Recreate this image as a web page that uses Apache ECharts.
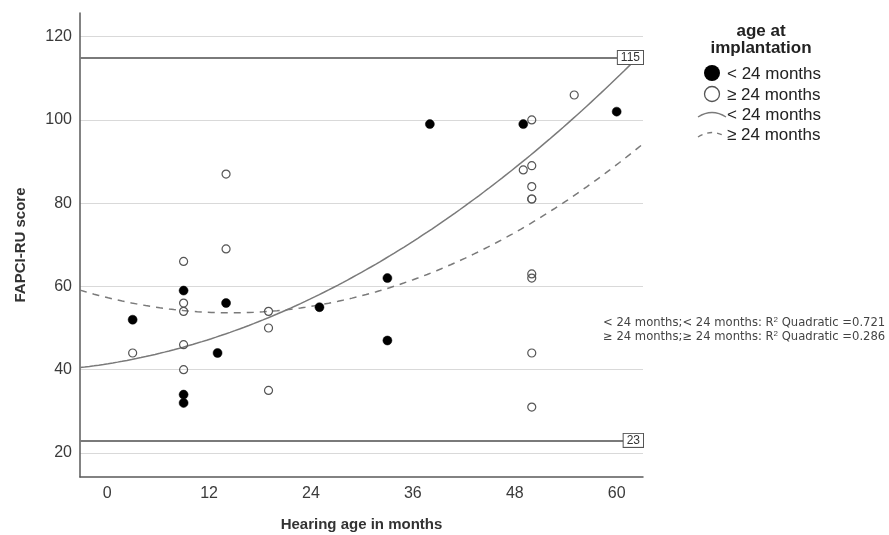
<!DOCTYPE html>
<html><head><meta charset="utf-8">
<script src="https://cdn.jsdelivr.net/npm/echarts@6/dist/echarts.min.js"></script>
<style>html,body{margin:0;padding:0;background:#fff}#c{width:889px;height:535px}</style>
</head><body><div id="c"></div>
<script>
// ---- data ----
const xTicks = [0, 12, 24, 36, 48, 60];
const yTicks = [20, 40, 60, 80, 100, 120];
const xRange = [-3.2, 63.1];
const yRange = [14.2, 125.7];
const refLines = [115, 23];
const groupNames = ['< 24 months', '≥ 24 months'];
// age at implantation < 24 months (filled)
const ltX = [3, 9, 9, 9, 13, 14, 25, 33, 33, 38, 49, 60];
const ltY = [52, 59, 34, 32, 44, 56, 55, 62, 47, 99, 99, 102];
// age at implantation >= 24 months (open)
const geX = [3, 9, 9, 9, 9, 9, 14, 14, 19, 19, 19, 49, 50, 50, 50, 50, 50, 50, 50, 50, 50, 55];
const geY = [44, 66, 56, 54, 46, 40, 87, 69, 54, 50, 35, 88, 100, 89, 84, 81, 81, 63, 62, 44, 31, 106];
const r2Lines = [
  '< 24 months;< 24 months: R{sup|2} Quadratic =0.721',
  '≥ 24 months;≥ 24 months: R{sup|2} Quadratic =0.286'
];
const xTitle = 'Hearing age in months';
const yTitle = 'FAPCI-RU score';
const legendTitle = ['age at', 'implantation'];

// ---- quadratic least squares fit of the data ----
function quadFit(xs, ys) {
  let n = xs.length, s1 = 0, s2 = 0, s3 = 0, s4 = 0, t0 = 0, t1 = 0, t2 = 0;
  for (let i = 0; i < n; i++) {
    const x = xs[i], y = ys[i];
    s1 += x; s2 += x * x; s3 += x * x * x; s4 += x * x * x * x;
    t0 += y; t1 += x * y; t2 += x * x * y;
  }
  const M = [[n, s1, s2], [s1, s2, s3], [s2, s3, s4]], B = [t0, t1, t2];
  const det = m => m[0][0]*(m[1][1]*m[2][2]-m[1][2]*m[2][1]) - m[0][1]*(m[1][0]*m[2][2]-m[1][2]*m[2][0]) + m[0][2]*(m[1][0]*m[2][1]-m[1][1]*m[2][0]);
  const D = det(M);
  const res = [];
  for (let k = 0; k < 3; k++) {
    const Mk = M.map((row, i) => row.map((v, j) => j === k ? B[i] : v));
    res.push(det(Mk) / D);
  }
  return res;
}
function fitCurve(xs, ys) {
  const c = quadFit(xs, ys);
  const pts = [];
  const steps = 120;
  for (let i = 0; i <= steps; i++) {
    const x = xRange[0] + (xRange[1] - xRange[0]) * i / steps;
    pts.push([x, c[0] + c[1] * x + c[2] * x * x]);
  }
  return pts;
}
const zip = (a, b) => a.map((v, i) => [v, b[i]]);

const chart = echarts.init(document.getElementById('c'), null, { renderer: 'canvas' });
const FF = '"Liberation Sans", Arial, Helvetica, sans-serif';
const axisCol = '#5a5a5a';
const supRich = { sup: { fontSize: 8, verticalAlign: 'top', padding: [0, 0, 6, 0], fill: '#444' } };
chart.setOption({
  animation: false,
  backgroundColor: '#fff',
  grid: { left: 80, right: 246, top: 13, bottom: 58, containLabel: false, outerBoundsMode: 'none' },
  xAxis: {
    type: 'value', min: xRange[0], max: xRange[1],
    name: xTitle, nameLocation: 'middle', nameGap: 40,
    nameTextStyle: { fontFamily: FF, fontSize: 15, fontWeight: 'bold', color: '#333' },
    axisLine: { show: true, onZero: false, lineStyle: { color: axisCol, width: 1.5 } },
    axisTick: { show: false, customValues: xTicks },
    axisLabel: { customValues: xTicks, fontFamily: FF, fontSize: 16, color: '#3a3a3a', margin: 9 },
    splitLine: { show: false }
  },
  yAxis: {
    type: 'value', min: yRange[0], max: yRange[1],
    name: yTitle, nameLocation: 'middle', nameGap: 52,
    nameTextStyle: { fontFamily: FF, fontSize: 15, fontWeight: 'bold', color: '#333' },
    axisLine: { show: true, onZero: false, lineStyle: { color: axisCol, width: 1.5 } },
    axisTick: { show: false, customValues: yTicks },
    axisLabel: { customValues: yTicks, fontFamily: FF, fontSize: 16, color: '#3a3a3a', margin: 8 },
    splitLine: { show: true, lineStyle: { color: '#d9d9d9', width: 1.2 } }
  },
  series: [
    {
      name: groupNames[0] + ' fit', type: 'line', data: fitCurve(ltX, ltY),
      showSymbol: false, silent: true, clip: true,
      lineStyle: { color: '#7a7a7a', width: 1.5 }, z: 2,
      markLine: {
        silent: true, symbol: ['none', 'none'],
        lineStyle: { color: '#7a7a7a', width: 1.8, type: 'solid' },
        label: {
          show: true, position: 'insideEnd', distance: 0, formatter: '{c}',
          fontFamily: FF, fontSize: 12, color: '#333',
          backgroundColor: '#fff', borderColor: '#555', borderWidth: 1, padding: [1, 3, 0, 3]
        },
        data: refLines.map(v => ({ yAxis: v }))
      }
    },
    {
      name: groupNames[1] + ' fit', type: 'line', data: fitCurve(geX, geY),
      showSymbol: false, silent: true, clip: true,
      lineStyle: { color: '#7a7a7a', width: 1.5, type: [7, 6] }, z: 2
    },
    {
      name: groupNames[0], type: 'scatter', data: zip(ltX, ltY), symbol: 'circle', symbolSize: 9,
      itemStyle: { color: '#000', borderColor: '#000', borderWidth: 0.5, opacity: 1 }, z: 3
    },
    {
      name: groupNames[1], type: 'scatter', data: zip(geX, geY), symbol: 'circle', symbolSize: 8,
      itemStyle: { color: 'rgba(255,255,255,0)', borderColor: '#555', borderWidth: 1.2, opacity: 1 }, z: 3
    }
  ],
  graphic: [
    { type: 'text', x: 761, y: 31, style: { text: legendTitle[0], font: 'bold 17px ' + FF, fill: '#222', align: 'center', verticalAlign: 'middle' } },
    { type: 'text', x: 761, y: 48, style: { text: legendTitle[1], font: 'bold 17px ' + FF, fill: '#222', align: 'center', verticalAlign: 'middle' } },
    { type: 'circle', shape: { cx: 712, cy: 73, r: 8 }, style: { fill: '#000' } },
    { type: 'text', x: 727, y: 74, style: { text: groupNames[0], font: '17px ' + FF, fill: '#222', verticalAlign: 'middle' } },
    { type: 'circle', shape: { cx: 712, cy: 94, r: 7.5 }, style: { fill: '#fff', stroke: '#555', lineWidth: 1.3 } },
    { type: 'text', x: 727, y: 95, style: { text: groupNames[1], font: '17px ' + FF, fill: '#222', verticalAlign: 'middle' } },
    { type: 'bezierCurve', shape: { x1: 698, y1: 117, cpx1: 712, cpy1: 108, x2: 726, y2: 117 }, style: { fill: null, stroke: '#7a7a7a', lineWidth: 1.3 } },
    { type: 'text', x: 727, y: 115, style: { text: groupNames[0], font: '17px ' + FF, fill: '#222', verticalAlign: 'middle' } },
    { type: 'bezierCurve', shape: { x1: 698, y1: 137, cpx1: 712, cpy1: 128, x2: 726, y2: 137 }, style: { fill: null, stroke: '#7a7a7a', lineWidth: 1.3, lineDash: [5, 5] } },
    { type: 'text', x: 727, y: 135, style: { text: groupNames[1], font: '17px ' + FF, fill: '#222', verticalAlign: 'middle' } },
    { type: 'text', x: 603, y: 323, style: { text: r2Lines[0], font: '11.6px "DejaVu Sans", sans-serif', fill: '#444', verticalAlign: 'middle', rich: supRich } },
    { type: 'text', x: 603, y: 337, style: { text: r2Lines[1], font: '11.6px "DejaVu Sans", sans-serif', fill: '#444', verticalAlign: 'middle', rich: supRich } }
  ]
});
</script>
</body></html>
